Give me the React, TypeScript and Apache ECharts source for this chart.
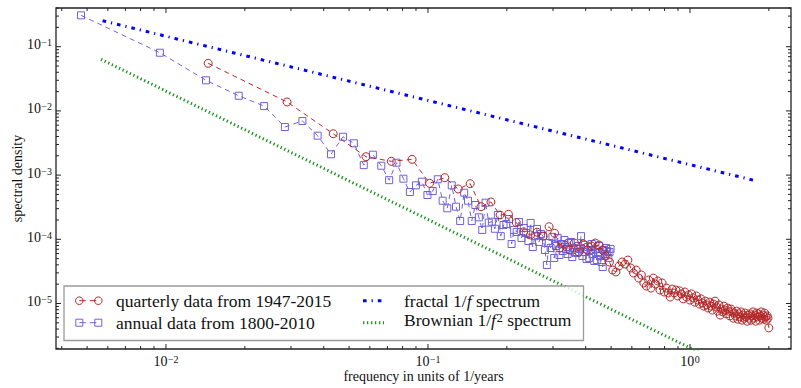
import React, { useEffect, useRef } from "react";
import * as echarts from "echarts";

// ---- data ----
const X_MIN = 0.003804;
const X_MAX = 2.43;
const Y_MIN = 1.955e-6;
const Y_MAX = 0.401;

// Fourier frequency grids (cycles per year)
const QUARTERLY_YEARS = 69; // 1947-2015
const ANNUAL_YEARS = 211; // 1800-2010

// spectral density, quarterly data (k = 1..138)
const quarterlyPSD = [
  0.0551, 0.01377, 0.00441, 0.001935, 0.00164, 0.00176, 7.45e-4, 9.12e-4, 6.08e-4, 7.35e-4,
  3.22e-4, 3.81e-4, 2.39e-4, 2.45e-4, 1.82e-4, 1.31e-4, 1.17e-4, 1.29e-4, 1.12e-4, 1.57e-4,
  1.24e-4, 7.31e-5, 8.15e-5, 6.81e-5, 8.75e-5, 6.34e-5, 8.45e-5, 6.81e-5, 7.87e-5, 8.75e-5,
  8.15e-5, 6.81e-5, 5.49e-5, 4.43e-5, 3.32e-5, 3.1e-5, 3.84e-5, 4.43e-5, 4.12e-5, 4.75e-5,
  3.57e-5, 2.99e-5, 3.32e-5, 2.49e-5, 2.78e-5, 2.09e-5, 1.87e-5, 2.32e-5, 1.74e-5, 2.49e-5,
  2.01e-5, 2.24e-5, 1.62e-5, 2.09e-5, 1.51e-5, 1.74e-5, 1.46e-5, 1.26e-5, 1.68e-5, 1.46e-5,
  1.62e-5, 1.31e-5, 1.57e-5, 1.41e-5, 1.18e-5, 1.51e-5, 1.26e-5, 1.36e-5, 1.13e-5, 1.41e-5,
  1.22e-5, 1.05e-5, 1.31e-5, 1.13e-5, 9.8e-6, 1.18e-5, 1.02e-5, 9.1e-6, 1.09e-5, 9.5e-6,
  8.5e-6, 1.05e-5, 9.1e-6, 7.9e-6, 9.8e-6, 1.09e-5, 8.8e-6, 7.6e-6, 9.5e-6, 6.6e-6,
  8.2e-6, 7.4e-6, 9.1e-6, 7.9e-6, 6.9e-6, 8.5e-6, 7.6e-6, 6.4e-6, 8.2e-6, 7.4e-6,
  5.9e-6, 7.1e-6, 6.4e-6, 7.6e-6, 5.7e-6, 6.9e-6, 6.2e-6, 7.4e-6, 5.5e-6, 6.6e-6,
  5.9e-6, 7.1e-6, 6.2e-6, 5.3e-6, 6.6e-6, 5.9e-6, 6.9e-6, 5.5e-6, 6.4e-6, 7.4e-6,
  5.9e-6, 6.6e-6, 5.3e-6, 7.1e-6, 6.2e-6, 6.9e-6, 5.5e-6, 6.4e-6, 7.4e-6, 5.9e-6,
  6.6e-6, 5.7e-6, 7.1e-6, 6.2e-6, 5.5e-6, 6.4e-6, 5.9e-6, 4.17e-6,
];

// spectral density, annual data (k = 1..105)
const annualPSD = [
  0.308, 0.0806, 0.03, 0.0172, 0.0119, 0.00561, 0.00697, 0.00411, 0.00211, 0.00396,
  0.00313, 0.00143, 0.00208, 0.0014, 8.34e-4, 1.56e-3, 8.79e-4, 5.45e-4, 6.93e-4, 7.89e-4,
  4.9e-4, 5.65e-4, 8.61e-4, 3.99e-4, 3.04e-4, 6.93e-4, 3.22e-4, 1.93e-4, 5.32e-4, 3.99e-4,
  1.93e-4, 3.42e-4, 2.2e-4, 1.4e-4, 3.72e-4, 1.82e-4, 1.88e-4, 1.46e-4, 2.39e-4, 1.12e-4,
  1.67e-4, 1.73e-4, 2.07e-4, 8.45e-5, 1.4e-4, 1.3e-4, 1.86e-4, 1.05e-4, 1.5e-4, 1.25e-4,
  9.41e-5, 1.8e-4, 7.59e-5, 1.12e-4, 1.45e-4, 9.08e-5, 1.21e-4, 1.12e-4, 6.81e-5, 3.98e-5,
  8.75e-5, 7.31e-5, 1.09e-4, 5.12e-5, 7.87e-5, 1.05e-4, 5.69e-5, 8.45e-5, 6.58e-5, 9.75e-5,
  7.06e-5, 5.9e-5, 8.75e-5, 9.08e-5, 5.3e-5, 7.31e-5, 6.34e-5, 6.12e-5, 7.87e-5, 7.06e-5,
  1.12e-4, 5.49e-5, 8.15e-5, 6.34e-5, 4.93e-5, 7.59e-5, 5.12e-5, 6.81e-5, 8.45e-5, 5.9e-5,
  4.59e-5, 7.06e-5, 4.75e-5, 6.34e-5, 7.87e-5, 5.49e-5, 4.43e-5, 3.7e-5, 6.81e-5, 5.9e-5,
  7.31e-5, 6.58e-5, 5.12e-5, 6.34e-5, 7.06e-5,
];

// reference spectra (two end points each)
const fractalF = [0.00573, 1.77];
const fractalS = [0.254, 8.22e-4];
const brownianF = [0.00565, 1.8];
const brownianS = [0.0637, 6.28e-7];

// ticks
const xMajorTicks = [0.01, 0.1, 1];
const xMinorTicks = [
  0.004, 0.005, 0.006, 0.007, 0.008, 0.009,
  0.02, 0.03, 0.04, 0.05, 0.06, 0.07, 0.08, 0.09,
  0.2, 0.3, 0.4, 0.5, 0.6, 0.7, 0.8, 0.9, 2,
];
const yMajorTicks = [1e-5, 1e-4, 1e-3, 1e-2, 1e-1];
const yMinorTicks = [
  2e-6, 3e-6, 4e-6, 5e-6, 6e-6, 7e-6, 8e-6, 9e-6,
  2e-5, 3e-5, 4e-5, 5e-5, 6e-5, 7e-5, 8e-5, 9e-5,
  2e-4, 3e-4, 4e-4, 5e-4, 6e-4, 7e-4, 8e-4, 9e-4,
  2e-3, 3e-3, 4e-3, 5e-3, 6e-3, 7e-3, 8e-3, 9e-3,
  2e-2, 3e-2, 4e-2, 5e-2, 6e-2, 7e-2, 8e-2, 9e-2,
  2e-1, 3e-1, 4e-1,
];

const legendLabels = [
  "quarterly data from 1947-2015",
  "annual data from 1800-2010",
  "fractal 1/{i|f} spectrum",
  "{n|Brownian 1/}{i|f}{s|2}{n| spectrum}",
];

const FONT = "Liberation Serif";
const RED = "#b5282a";
const PURPLE = "#7061dc";
const BLUE = "#0000ff";
const GREEN = "#159415";
const FRAME = "#222";

const quarterlyData = quarterlyPSD.map((s, i) => [(i + 1) / QUARTERLY_YEARS, s]);
const annualData = annualPSD.map((s, i) => [(i + 1) / ANNUAL_YEARS, s]);

function expLabel(v: number) {
  const e = Math.log10(v);
  const r = Math.round(e);
  if (Math.abs(e - r) > 1e-6) return "";
  return `{b|10}{s|${r < 0 ? "\u2212" : ""}${Math.abs(r)}}`;
}

const labelRich = {
  b: { fontFamily: FONT, fontSize: 14, lineHeight: 14, color: "#111", verticalAlign: "bottom" },
  s: {
    fontFamily: FONT,
    fontSize: 10,
    lineHeight: 10,
    color: "#111",
    verticalAlign: "top",
    padding: [0, 0, 8, 0.5],
  },
};

function tickSeries(values: number[], len: number, dir: "x" | "y") {
  return {
    type: "custom",
    silent: true,
    z: 20,
    clip: false,
    data: values.map((v) => (dir === "x" ? [v, 1e-3] : [0.01, v])),
    renderItem: (params: any, api: any) => {
      const cs = params.coordSys;
      const style = { stroke: FRAME, lineWidth: 1 };
      if (dir === "x") {
        const x = api.coord([api.value(0), 1e-3])[0];
        const yb = cs.y + cs.height;
        return {
          type: "group",
          children: [
            { type: "line", shape: { x1: x, y1: yb, x2: x, y2: yb - len }, style },
            { type: "line", shape: { x1: x, y1: cs.y, x2: x, y2: cs.y + len }, style },
          ],
        };
      }
      const y = api.coord([0.01, api.value(1)])[1];
      const xr = cs.x + cs.width;
      return {
        type: "group",
        children: [
          { type: "line", shape: { x1: cs.x, y1: y, x2: cs.x + len, y2: y }, style },
          { type: "line", shape: { x1: xr, y1: y, x2: xr - len, y2: y }, style },
        ],
      };
    },
  };
}

const FRACTAL_DASH = [3.6, 5, 1.2, 5];
const BROWN_DASH = [1.3, 2.7];

function buildLegend() {
  const bx = 64;
  const by = 286;
  const r1 = 300.7;
  const r2 = 322.7;
  const z = 100;
  const textStyle = { fontFamily: FONT, fontSize: 17.5, fill: "#111", verticalAlign: "middle", align: "left" };
  return [
    {
      type: "rect",
      z,
      shape: { x: bx, y: by, width: 519.5, height: 54.5 },
      style: { fill: "rgba(255,255,255,0.8)", stroke: "#9a9a9a", lineWidth: 1.3 },
    },
    { type: "line", z, shape: { x1: 79.3, y1: r1, x2: 98.3, y2: r1 }, style: { stroke: RED, lineWidth: 1, lineDash: [6.5, 4] } },
    { type: "circle", z, shape: { cx: 79.3, cy: r1, r: 3.8 }, style: { fill: "none", stroke: RED, lineWidth: 1 } },
    { type: "circle", z, shape: { cx: 98.3, cy: r1, r: 3.8 }, style: { fill: "none", stroke: RED, lineWidth: 1 } },
    { type: "line", z, shape: { x1: 79.3, y1: r2, x2: 98.3, y2: r2 }, style: { stroke: PURPLE, lineWidth: 1, lineDash: [6.5, 4] } },
    { type: "rect", z, shape: { x: 75.8, y: r2 - 3.5, width: 7, height: 7 }, style: { fill: "none", stroke: PURPLE, lineWidth: 1 } },
    { type: "rect", z, shape: { x: 94.8, y: r2 - 3.5, width: 7, height: 7 }, style: { fill: "none", stroke: PURPLE, lineWidth: 1 } },
    { type: "line", z, shape: { x1: 363, y1: r1, x2: 384, y2: r1 }, style: { stroke: BLUE, lineWidth: 3, lineDash: FRACTAL_DASH } },
    { type: "line", z, shape: { x1: 363, y1: r2, x2: 384, y2: r2 }, style: { stroke: GREEN, lineWidth: 3, lineDash: BROWN_DASH } },
    { type: "text", z, x: 116, y: r1, style: { ...textStyle, text: legendLabels[0] } },
    { type: "text", z, x: 116, y: r2, style: { ...textStyle, text: legendLabels[1] } },
    {
      type: "text",
      z,
      x: 404,
      y: r1,
      style: {
        ...textStyle,
        text: legendLabels[2],
        rich: { i: { fontFamily: FONT, fontSize: 17.5, fontStyle: "italic", fill: "#111" } },
      },
    },
    {
      type: "text",
      z,
      x: 404,
      y: r2 - 2,
      style: {
        ...textStyle,
        text: legendLabels[3],
        rich: {
          n: { fontFamily: FONT, fontSize: 17.5, lineHeight: 17, verticalAlign: "bottom", fill: "#111" },
          i: { fontFamily: FONT, fontSize: 17.5, lineHeight: 17, verticalAlign: "bottom", fontStyle: "italic", fill: "#111" },
          s: { fontFamily: FONT, fontSize: 12, lineHeight: 12, verticalAlign: "top", padding: [0, 0, 9, 1], fill: "#111" },
        },
      },
    },
  ];
}

export default function App() {
  const ref = useRef<HTMLDivElement>(null);
  useEffect(() => {
    if (!ref.current) return;
    const chart = echarts.init(ref.current, null, { renderer: "svg" });
    const option: any = {
      animation: false,
      backgroundColor: "#fff",
      grid: {
        left: 56,
        right: 10,
        top: 8,
        bottom: 39,
        show: true,
        borderColor: FRAME,
        borderWidth: 1.3,
        backgroundColor: "transparent",
        containLabel: false,
        outerBoundsMode: "none",
      },
      xAxis: {
        type: "log",
        logBase: 10,
        min: X_MIN,
        max: X_MAX,
        axisLine: { show: false },
        axisTick: { show: false },
        splitLine: { show: false },
        axisLabel: { formatter: expLabel, rich: labelRich, margin: 5 },
        name: "frequency in units of 1/years",
        nameLocation: "middle",
        nameGap: 20,
        nameMoveOverlap: false,
        nameTextStyle: { fontFamily: FONT, fontSize: 14, color: "#111" },
      },
      yAxis: {
        type: "log",
        logBase: 10,
        min: Y_MIN,
        max: Y_MAX,
        axisLine: { show: false },
        axisTick: { show: false },
        splitLine: { show: false },
        axisLabel: { formatter: expLabel, rich: labelRich, margin: 4, padding: [0, 0, 4, 0] },
        name: "spectral density",
        nameLocation: "middle",
        nameRotate: 90,
        nameGap: 32,
        nameMoveOverlap: false,
        nameTextStyle: { fontFamily: FONT, fontSize: 14, color: "#111" },
      },
      series: [
        {
          type: "line",
          name: "annual",
          data: annualData,
          symbol: "rect",
          symbolSize: 7,
          showAllSymbol: true,
          lineStyle: { color: PURPLE, width: 1, type: [5, 4] },
          itemStyle: { color: "rgba(0,0,0,0)", borderColor: PURPLE, borderWidth: 1 },
          z: 3,
        },
        {
          type: "line",
          name: "quarterly",
          data: quarterlyData,
          symbol: "circle",
          symbolSize: 8,
          showAllSymbol: true,
          lineStyle: { color: RED, width: 1, type: [5, 4] },
          itemStyle: { color: "rgba(0,0,0,0)", borderColor: RED, borderWidth: 1 },
          z: 4,
        },
        {
          type: "line",
          name: "fractal",
          data: fractalF.map((f, i) => [f, fractalS[i]]),
          symbol: "none",
          lineStyle: { color: BLUE, width: 3, type: FRACTAL_DASH, cap: "butt" },
          z: 2,
        },
        {
          type: "line",
          name: "brownian",
          data: brownianF.map((f, i) => [f, brownianS[i]]),
          symbol: "none",
          clip: true,
          lineStyle: { color: GREEN, width: 3, type: BROWN_DASH, cap: "butt" },
          z: 2,
        },
        tickSeries(xMajorTicks, 5, "x"),
        tickSeries(xMinorTicks, 3, "x"),
        tickSeries(yMajorTicks, 5, "y"),
        tickSeries(yMinorTicks, 3, "y"),
      ],
      graphic: buildLegend(),
    };
    chart.setOption(option);
    return () => chart.dispose();
  }, []);
  return (
    <div
      ref={ref}
      style={{ position: "fixed", left: 0, top: 0, width: 801, height: 388, background: "#fff" }}
    />
  );
}
